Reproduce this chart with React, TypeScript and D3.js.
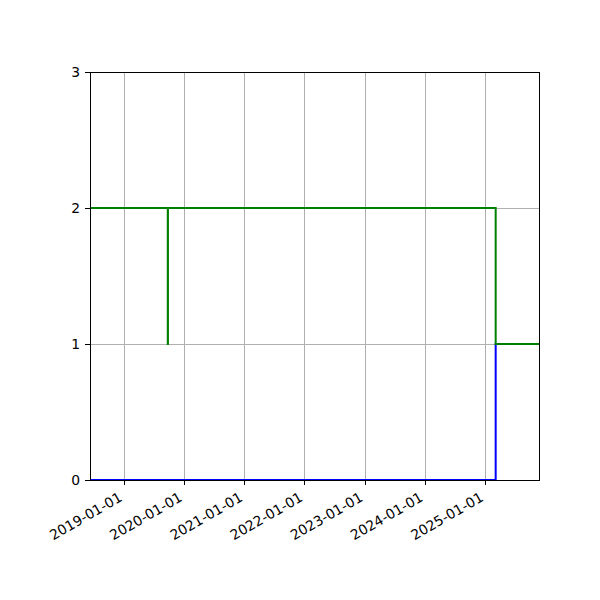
import React, { useEffect, useRef } from "react";
import * as d3 from "d3";

// data
const greenDates = ["2018-06-10", "2019-09-25", "2019-09-26", "2025-03-07", "2025-12-01"];
const greenValues = [2, 1, 2, 1, 1];
const blueDates = ["2018-06-10", "2025-03-07", "2025-12-01"];
const blueValues = [0, 1, 1];
const xTickLabels = ["2019-01-01", "2020-01-01", "2021-01-01", "2022-01-01", "2023-01-01", "2024-01-01", "2025-01-01"];
const yTicks = [0, 1, 2, 3];

export default function App() {
    const svgRef = useRef<SVGSVGElement>(null);

    useEffect(() => {
        if (!svgRef.current) return;
        const svg = d3.select(svgRef.current);
        svg.selectAll("*").remove();

        const margin = { top: 72, right: 60, bottom: 120, left: 90 };
        const width = 600 - margin.left - margin.right;
        const height = 600 - margin.top - margin.bottom;
        const parse = d3.utcParse("%Y-%m-%d");
        const font = "DejaVu Sans, sans-serif";

        const x = d3.scaleUtc()
            .domain([parse("2018-06-10")!, parse("2025-12-01")!])
            .range([0, width]);
        const y = d3.scaleLinear().domain([0, 3]).range([height, 0]);
        // snap to pixel centres like the original
        const sx = (d: Date) => Math.round(x(d)) + 0.5;
        const sy = (v: number) => Math.round(y(v)) + 0.5;

        const g = svg.append("g").attr("transform", `translate(${margin.left},${margin.top})`);

        g.append("defs").append("clipPath").attr("id", "plot-clip")
            .append("rect").attr("width", width).attr("height", height);

        // Grid
        const tickDates = xTickLabels.map(d => parse(d)!);
        g.append("g").selectAll("line").data(tickDates).join("line")
            .attr("x1", d => sx(d)).attr("x2", d => sx(d))
            .attr("y1", 0).attr("y2", height)
            .attr("stroke", "#b0b0b0").attr("stroke-width", 1);
        g.append("g").selectAll("line").data(yTicks).join("line")
            .attr("x1", 0).attr("x2", width)
            .attr("y1", d => sy(d)).attr("y2", d => sy(d))
            .attr("stroke", "#b0b0b0").attr("stroke-width", 1);

        // Lines
        const series = [
            { dates: blueDates, values: blueValues, color: "#0000ff" },
            { dates: greenDates, values: greenValues, color: "#008000" },
        ];
        series.forEach(s => {
            const pts = s.dates.map((d, i) => [parse(d)!, s.values[i]] as [Date, number]);
            const line = d3.line<[Date, number]>()
                .x(d => x(d[0]))
                .y(d => y(d[1]))
                .curve(d3.curveStepAfter);
            g.append("path")
                .datum(pts)
                .attr("clip-path", "url(#plot-clip)")
                .attr("fill", "none")
                .attr("stroke", s.color)
                .attr("stroke-width", 2)
                .attr("d", line);
        });

        // Spines
        g.append("rect")
            .attr("x", 0.5).attr("y", 0.5)
            .attr("width", width - 1).attr("height", height)
            .attr("fill", "none").attr("stroke", "#000").attr("stroke-width", 1);

        // X ticks
        const xt = g.append("g").attr("transform", `translate(0,${height})`);
        tickDates.forEach((d, i) => {
            xt.append("line")
                .attr("x1", sx(d)).attr("x2", sx(d))
                .attr("y1", 0).attr("y2", 5)
                .attr("stroke", "#000").attr("stroke-width", 1);
            xt.append("text")
                .attr("transform", `translate(${x(d) + 1},${23}) rotate(-30)`)
                .attr("text-anchor", "end")
                .attr("dy", "-0.24em")
                .attr("font-family", font)
                .attr("font-size", 13.9)
                .attr("fill", "#000")
                .text(xTickLabels[i]);
        });

        // Y ticks
        yTicks.forEach(t => {
            g.append("line")
                .attr("x1", -5).attr("x2", 0)
                .attr("y1", sy(t)).attr("y2", sy(t))
                .attr("stroke", "#000").attr("stroke-width", 1);
            g.append("text")
                .attr("x", -9.8).attr("y", y(t))
                .attr("dy", "0.35em")
                .attr("text-anchor", "end")
                .attr("font-family", font)
                .attr("font-size", 13.9)
                .attr("fill", "#000")
                .text(t);
        });
    }, []);

    return (
        <div style={{ margin: -8 }}>
            <svg ref={svgRef} width={600} height={600} style={{ display: "block", background: "#fff" }} />
        </div>
    );
}
